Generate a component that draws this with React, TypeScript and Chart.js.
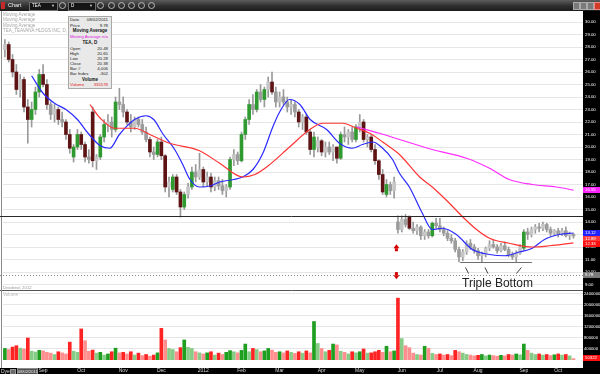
import React, { useEffect, useRef } from "react";
import { Chart, registerables } from "chart.js";

Chart.register(...registerables);

const FONT = '"Liberation Sans", Arial, Helvetica, sans-serif';

// ---- Price bars (two trading days per bar): [open, high, low, close]
const aug11 = [
  [27.8, 28.6, 27.2, 28.2], [28.2, 28.4, 26.8, 27.0], [27.0, 27.4, 25.6, 26.0], [26.0, 26.6, 24.2, 24.6],
  [24.6, 25.8, 24.0, 25.4], [25.4, 25.6, 22.8, 23.2], [23.2, 23.8, 20.3, 22.2], [22.2, 23.6, 21.6, 23.0],
  [23.0, 24.8, 22.6, 24.4], [24.4, 26.2, 24.0, 25.8],
];
const sep11 = [
  [25.8, 26.6, 24.8, 25.0], [25.0, 25.4, 23.0, 23.4], [23.4, 23.6, 22.2, 22.6], [22.6, 23.4, 22.0, 23.0],
  [23.0, 23.2, 21.8, 22.2], [22.2, 22.8, 21.6, 22.0], [22.0, 22.2, 20.6, 21.0], [21.0, 21.4, 19.5, 19.9],
  [19.2, 20.2, 18.8, 20.0], [20.0, 21.4, 19.8, 21.0],
];
const oct11 = [
  [21.0, 21.2, 19.8, 20.2], [20.2, 20.4, 18.8, 19.2], [19.2, 19.8, 18.7, 19.0], [22.8, 23.2, 18.4, 18.9],
  [18.9, 19.4, 18.2, 19.2], [19.2, 21.0, 19.0, 20.8], [20.8, 22.2, 20.4, 21.8], [21.8, 22.6, 21.2, 22.0],
  [22.0, 22.4, 20.8, 21.4], [21.4, 24.0, 21.2, 23.6], [23.6, 24.7, 23.0, 23.4],
];
const nov11 = [
  [23.4, 24.0, 22.4, 22.8], [22.8, 23.0, 21.8, 22.0], [22.0, 22.6, 21.2, 21.6], [21.6, 22.4, 21.4, 22.2],
  [22.2, 22.4, 21.6, 21.8], [21.8, 22.2, 21.0, 21.2], [21.2, 21.6, 20.4, 20.6], [20.6, 20.8, 19.2, 19.6],
  [19.6, 20.0, 19.0, 19.4], [19.4, 20.6, 19.2, 20.4],
];
const dec11 = [
  [20.4, 20.8, 19.0, 19.3], [19.3, 19.4, 16.4, 16.8], [16.8, 17.6, 16.0, 17.2], [16.6, 17.8, 16.4, 17.6],
  [17.6, 17.8, 16.2, 16.4], [16.4, 16.6, 14.4, 15.2], [15.2, 16.4, 15.0, 16.2], [16.2, 17.1, 15.9, 16.8],
  [16.8, 18.4, 16.6, 18.0], [18.0, 18.6, 17.2, 17.6], [17.6, 19.5, 17.4, 18.2],
];
const jan12 = [
  [18.2, 18.4, 16.8, 17.2], [17.2, 18.0, 16.9, 17.6], [17.6, 17.9, 16.4, 16.8], [16.8, 17.6, 16.5, 17.3],
  [17.3, 17.6, 16.6, 16.9], [16.9, 17.4, 16.2, 16.5], [16.5, 17.0, 16.0, 16.8], [16.8, 19.2, 16.6, 19.0],
  [19.0, 19.8, 18.5, 19.4], [19.4, 19.6, 18.6, 18.9],
];
const feb12 = [
  [18.9, 21.2, 18.8, 21.0], [21.0, 22.4, 20.6, 22.2], [22.2, 23.8, 21.8, 23.4], [23.4, 24.2, 22.6, 23.0],
  [23.0, 24.6, 22.8, 24.4], [24.4, 25.0, 23.6, 23.8], [23.8, 24.8, 23.2, 24.6], [24.6, 25.6, 24.0, 25.2],
  [25.2, 26.0, 24.2, 24.4], [24.4, 24.8, 23.2, 23.6],
];
const mar12 = [
  [23.6, 24.4, 23.2, 24.0], [24.0, 24.6, 23.4, 23.6], [23.6, 24.0, 22.8, 23.2], [23.2, 23.8, 22.6, 23.4],
  [23.4, 23.6, 22.4, 22.8], [22.8, 23.0, 21.6, 22.0], [22.0, 22.6, 21.4, 22.4], [22.4, 22.6, 21.0, 21.2],
  [21.2, 21.4, 19.4, 19.8], [19.8, 21.2, 19.2, 20.8], [20.0, 20.8, 19.6, 20.5],
];
const apr12 = [
  [20.5, 20.6, 19.3, 19.6], [19.6, 20.4, 19.2, 20.0], [20.0, 20.4, 19.4, 19.6], [19.6, 20.2, 18.9, 20.0],
  [20.0, 20.0, 18.7, 19.1], [19.1, 21.2, 19.0, 21.0], [21.0, 21.6, 20.4, 20.8], [20.8, 21.4, 20.2, 21.2],
  [21.2, 21.6, 20.4, 20.6], [20.6, 21.8, 20.4, 21.6],
];
const may12 = [
  [21.6, 22.6, 21.2, 22.0], [22.0, 22.2, 20.4, 20.6], [20.6, 21.0, 20.0, 20.8], [20.8, 21.0, 19.6, 19.8],
  [19.8, 20.2, 18.6, 18.9], [18.9, 19.0, 17.4, 17.8], [17.8, 18.2, 16.2, 16.4], [16.2, 17.4, 16.0, 17.0],
  [17.0, 17.2, 16.2, 16.5], [16.5, 17.6, 15.9, 17.2], [14.0, 14.5, 13.1, 13.4],
];
const jun12 = [
  [13.4, 14.5, 13.2, 14.2], [14.2, 14.6, 13.6, 13.8], [14.4, 14.5, 13.4, 13.5], [13.5, 14.0, 13.1, 13.3],
  [13.3, 13.8, 13.0, 13.6], [13.6, 13.7, 12.6, 12.9], [12.9, 13.4, 12.6, 13.2], [13.2, 13.4, 12.7, 12.9],
  [12.9, 14.0, 12.8, 13.9], [13.9, 14.3, 13.5, 13.7],
];
const jul12 = [
  [13.7, 14.3, 13.2, 13.4], [13.4, 13.6, 12.9, 13.1], [13.1, 13.3, 12.5, 12.7], [12.7, 13.0, 12.3, 12.5],
  [12.5, 12.7, 11.6, 11.8], [11.8, 12.0, 10.8, 11.2], [11.2, 11.8, 10.9, 11.6], [11.6, 12.5, 11.4, 12.3],
  [12.3, 12.6, 11.8, 12.0], [12.0, 12.2, 11.5, 11.7],
];
const aug12 = [
  [11.7, 11.9, 11.0, 11.3], [11.3, 11.6, 10.8, 11.4], [11.4, 12.0, 11.2, 11.9], [11.9, 12.5, 11.7, 12.2],
  [12.2, 12.6, 11.9, 12.0], [12.0, 12.2, 11.5, 11.7], [11.7, 12.3, 11.6, 12.1], [12.1, 12.4, 11.7, 11.8],
  [11.8, 12.0, 11.2, 11.4], [11.4, 11.6, 11.0, 11.2], [11.2, 11.7, 10.8, 11.5], [11.5, 12.2, 11.4, 12.0],
];
const sep12 = [
  [11.9, 13.4, 11.7, 13.2], [13.2, 13.5, 12.6, 13.0], [13.0, 13.6, 12.8, 13.4], [13.4, 13.8, 13.1, 13.6],
  [13.6, 13.9, 13.2, 13.5], [13.5, 14.0, 13.3, 13.8], [13.8, 13.9, 13.2, 13.4], [13.4, 13.6, 12.9, 13.1],
  [13.1, 13.4, 12.9, 13.3],
];
const oct12 = [
  [13.3, 13.5, 12.8, 13.0], [13.0, 13.5, 12.9, 13.3], [13.3, 13.6, 12.8, 12.9], [12.9, 13.2, 12.6, 13.0],
  [13.0, 13.1, 12.7, 12.89],
];

// ---- Volume per bar (thousands of shares)
const volAug11 = [420, 380, 470, 520, 430, 400, 800, 320, 290, 350];
const volSep11 = [330, 280, 250, 200, 300, 260, 220, 650, 320, 280];
const volOct11 = [1130, 700, 320, 360, 250, 280, 180, 220, 300, 430, 260];
const volNov11 = [280, 220, 300, 180, 250, 160, 200, 140, 180, 260];
const volDec11 = [1150, 730, 420, 380, 300, 450, 730, 460, 420, 300, 260];
const volJan12 = [220, 260, 300, 180, 250, 200, 280, 340, 300, 260];
const volFeb12 = [350, 580, 300, 420, 380, 300, 330, 420, 360, 280];
const volMar12 = [300, 260, 330, 280, 240, 300, 250, 330, 260, 1400, 600];
const volApr12 = [420, 300, 350, 580, 550, 320, 280, 220, 300, 260];
const volMay12 = [300, 400, 250, 260, 300, 350, 280, 500, 300, 330, 2250];
const volJun12 = [780, 520, 450, 250, 200, 180, 500, 430, 240, 200];
const volJul12 = [220, 180, 200, 160, 350, 300, 250, 200, 180, 150];
const volAug12 = [170, 200, 150, 180, 160, 140, 170, 150, 200, 180, 220, 190];
const volSep12 = [580, 350, 250, 200, 220, 180, 200, 160, 190];
const volOct12 = [220, 180, 200, 150, 50];

// ---- Moving averages: [bar index, price]
const ma20 = [
  [7, 25.7], [10, 24.3], [13, 23.5], [16, 23.0], [19, 22.2], [21.8, 21.1], [25, 20.1], [27.5, 19.9],
  [30, 21.0], [34, 22.2], [37, 22.5], [39, 22.2], [41.5, 21.0], [44.5, 19.8], [46.6, 18.6], [48.5, 17.4],
  [51, 16.8], [54, 16.9], [56.3, 17.2], [60, 17.4], [62.3, 17.6], [65, 18.2], [67.6, 19.5], [70.2, 21.6],
  [72, 22.8], [74.6, 23.8], [77.3, 23.4], [80, 22.2], [84.3, 21.4], [87.7, 20.3], [91, 19.9], [93.7, 20.2],
  [96.4, 20.4], [99, 19.9], [101.6, 19.0], [103.4, 17.9], [106, 16.8], [109.4, 14.7], [112, 13.4],
  [114.7, 13.5], [118.3, 13.0], [122.5, 11.8], [127, 11.4], [131, 11.3], [134.8, 11.6], [138.2, 11.9],
  [141.4, 12.6], [145.3, 13.0], [149, 13.12],
];
const ma50 = [
  [22.3, 23.4], [25, 22.3], [28.8, 21.5], [34, 21.5], [38, 21.0], [43.2, 20.3], [51, 19.7], [56.3, 18.7],
  [62.3, 17.6], [65.5, 17.8], [68.6, 18.4], [74.6, 20.0], [79.9, 21.4], [83.3, 21.9], [88.5, 21.9],
  [92.2, 21.5], [95.6, 21.1], [99, 20.4], [103.4, 19.4], [108.7, 17.6], [112, 16.8], [116.5, 15.5],
  [120, 14.4], [123.6, 13.4], [127, 12.7], [132.2, 12.3], [138.2, 12.0], [142.7, 12.1], [149, 12.33],
];
const ma200 = [
  [92.2, 21.6], [98.2, 21.1], [103.4, 20.6], [112, 19.8], [121, 19.1], [127, 18.3], [132.2, 17.4],
  [138.2, 17.0], [144.5, 16.8], [149, 16.55],
];

// ---- Axis / annotation values
const monthLabels = ["Sep", "Oct", "Nov", "Dec", "2012", "Feb", "Mar", "Apr", "May", "Jun", "Jul", "Aug", "Sep", "Oct"];
const priceTicks = [9, 10, 11, 12, 13, 14, 15, 16, 17, 18, 19, 20, 21, 22, 23, 24, 25, 26, 27, 28, 29, 30];
const volumeTicks = [400, 800, 1200, 1600, 2000, 2400];
const horizontalLevel = 14.45;
const priceLineLevel = 9.78;
const tripleBottomLevel = 10.8;
const tripleBottomSpan = [119.3, 138.1];
const tripleBottomTouches = [121.1, 126.2, 134.7];
const signalBar = 102.6;
const signalUp = 11.9;
const signalDown = 9.75;
const priceTags = [
  { value: 16.55, text: "16.55", bg: "#ff22ff", fg: "#ffffff" },
  { value: 13.12, text: "13.12", bg: "#2222ff", fg: "#ffffff" },
  { value: 12.89, text: "12.89", bg: "#ff3a3a", fg: "#ffffff" },
  { value: 12.33, text: "12.33", bg: "#ff1010", fg: "#ffffff" },
  { value: 9.78, text: "9.78", bg: "#7a7a7a", fg: "#ffffff" },
];
const lastVolume = 50;
const lastVolumeText = "50322";

function drawTag(ctx: CanvasRenderingContext2D, x0: number, w: number, y: number, text: string, bg: string, fg: string) {
  const yy = Math.round(y);
  ctx.fillStyle = bg;
  ctx.fillRect(x0, yy - 3, w, 6);
  ctx.fillStyle = fg;
  ctx.font = `4.3px ${FONT}`;
  ctx.textAlign = "left";
  ctx.textBaseline = "middle";
  ctx.fillText(text, x0 + 2, yy + 0.2);
}

export default function App() {
  const priceRef = useRef<HTMLCanvasElement | null>(null);
  const volRef = useRef<HTMLCanvasElement | null>(null);

  useEffect(() => {
    const months = [aug11, sep11, oct11, nov11, dec11, jan12, feb12, mar12, apr12, may12, jun12, jul12, aug12, sep12, oct12];
    const vols = [volAug11, volSep11, volOct11, volNov11, volDec11, volJan12, volFeb12, volMar12, volApr12, volMay12, volJun12, volJul12, volAug12, volSep12, volOct12];
    const bars = months.flat();
    const volumes = vols.flat();
    const starts: number[] = [];
    let acc = 0;
    months.forEach((m) => {
      starts.push(acc);
      acc += m.length;
    });
    const tickStarts = starts.slice(1);
    const X_MIN = -0.5;
    const X_MAX = bars.length + 1.5;

    const bodyColors = bars.map((b) => {
      const up = b[3] >= b[0];
      const big = Math.abs(b[3] - b[0]) >= 0.8;
      if (up) return big ? "#2f9a2f" : "#c6c6c6";
      return big ? "#5e1414" : "#9c9c9c";
    });
    const volColors = bars.map((b, i) => {
      const up = b[3] >= b[0];
      const more = i === 0 || volumes[i] >= volumes[i - 1];
      if (up) return more ? "#1f9f1f" : "#86cc86";
      return more ? "#ff2424" : "#ff8e8e";
    });

    const pricePlugin = {
      id: "priceDeco",
      beforeDraw(chart: any) {
        const { ctx, chartArea: ca, width, height } = chart;
        ctx.save();
        ctx.fillStyle = "#ffffff";
        ctx.fillRect(0, 0, width, height);
        ctx.fillStyle = "#000000";
        ctx.fillRect(ca.right, 0, width - ca.right, height);
        ctx.restore();
      },
      afterDatasetsDraw(chart: any) {
        const { ctx, chartArea: ca, scales } = chart;
        const xs = scales.x;
        const ys = scales.y;
        ctx.save();
        ctx.lineWidth = 1;
        ctx.strokeStyle = "#8a8a8a";
        ctx.beginPath();
        ctx.moveTo(1.5, 0);
        ctx.lineTo(1.5, ca.bottom);
        ctx.stroke();
        let y = Math.round(ys.getPixelForValue(horizontalLevel)) + 0.5;
        ctx.strokeStyle = "#2a2a2a";
        ctx.beginPath();
        ctx.moveTo(0, y);
        ctx.lineTo(ca.right, y);
        ctx.stroke();
        y = Math.round(ys.getPixelForValue(priceLineLevel)) + 0.5;
        ctx.strokeStyle = "#8a8a8a";
        ctx.setLineDash([1, 2]);
        ctx.beginPath();
        ctx.moveTo(0, y);
        ctx.lineTo(ca.right, y);
        ctx.stroke();
        ctx.setLineDash([]);
        const ty = Math.round(ys.getPixelForValue(tripleBottomLevel)) + 0.5;
        ctx.strokeStyle = "#6e6e6e";
        ctx.beginPath();
        ctx.moveTo(xs.getPixelForValue(tripleBottomSpan[0]), ty);
        ctx.lineTo(xs.getPixelForValue(tripleBottomSpan[1]), ty);
        ctx.stroke();
        ctx.strokeStyle = "#444444";
        tripleBottomTouches.forEach((t, k) => {
          const cx = xs.getPixelForValue(t);
          ctx.beginPath();
          if (k < 2) {
            ctx.moveTo(cx - 1.5, ty + 5);
            ctx.lineTo(cx + 1.5, ty + 11);
          } else {
            ctx.moveTo(cx - 2.5, ty + 11);
            ctx.lineTo(cx + 2.5, ty + 5);
          }
          ctx.stroke();
        });
        const ax = xs.getPixelForValue(signalBar);
        ctx.fillStyle = "#d40000";
        let ay = ys.getPixelForValue(signalUp);
        ctx.beginPath();
        ctx.moveTo(ax, ay - 4);
        ctx.lineTo(ax + 3, ay);
        ctx.lineTo(ax - 3, ay);
        ctx.closePath();
        ctx.fill();
        ctx.fillRect(ax - 1.5, ay, 3, 3);
        ay = ys.getPixelForValue(signalDown);
        ctx.beginPath();
        ctx.moveTo(ax, ay + 4);
        ctx.lineTo(ax + 3, ay);
        ctx.lineTo(ax - 3, ay);
        ctx.closePath();
        ctx.fill();
        ctx.fillRect(ax - 1.5, ay - 3, 3, 3);
        ctx.restore();
      },
      afterDraw(chart: any) {
        const { ctx, chartArea: ca, width, scales } = chart;
        const ys = scales.y;
        ctx.save();
        const sorted = [...priceTags].sort((a, b) => b.value - a.value);
        let prev = -100;
        sorted.forEach((t) => {
          let y = ys.getPixelForValue(t.value);
          if (y < prev + 5.5) y = prev + 5.5;
          prev = y;
          drawTag(ctx, ca.right, width - ca.right, y, t.text, t.bg, t.fg);
        });
        ctx.restore();
      },
    };

    const volumePlugin = {
      id: "volDeco",
      beforeDraw(chart: any) {
        const { ctx, chartArea: ca, width, height } = chart;
        ctx.save();
        ctx.fillStyle = "#ffffff";
        ctx.fillRect(0, 0, width, height);
        ctx.fillStyle = "#000000";
        ctx.fillRect(ca.right, 0, width - ca.right, height);
        ctx.fillRect(0, ca.bottom + 8, width, height - ca.bottom - 8);
        ctx.strokeStyle = "#555555";
        ctx.lineWidth = 1;
        ctx.beginPath();
        ctx.moveTo(0, 0.5);
        ctx.lineTo(ca.right, 0.5);
        ctx.stroke();
        ctx.strokeStyle = "#8a8a8a";
        ctx.beginPath();
        ctx.moveTo(1.5, 0);
        ctx.lineTo(1.5, ca.bottom + 8);
        ctx.stroke();
        ctx.restore();
      },
      afterDraw(chart: any) {
        const { ctx, chartArea: ca, width, scales } = chart;
        ctx.save();
        drawTag(ctx, ca.right, width - ca.right, scales.y.getPixelForValue(lastVolume) - 1, lastVolumeText, "#ff1010", "#ffffff");
        ctx.restore();
      },
    };

    const lineDs = (pts: number[][], color: string) => ({
      type: "line" as const,
      data: pts.map(([x, y]) => ({ x, y })),
      borderColor: color,
      borderWidth: 1.2,
      pointRadius: 0,
      cubicInterpolationMode: "monotone" as const,
    });

    const pc = new Chart(priceRef.current as HTMLCanvasElement, {
      type: "bar",
      data: {
        datasets: [
          lineDs(ma200, "#ff2cff"),
          lineDs(ma50, "#ff3434"),
          lineDs(ma20, "#2a2aff"),
          {
            type: "bar",
            data: bars.map((b, i) => ({ x: i, y: [Math.min(b[0], b[3]), Math.max(b[0], b[3])] })),
            backgroundColor: bodyColors,
            barThickness: 3,
            grouped: false,
            minBarLength: 1,
          },
          {
            type: "bar",
            data: bars.map((b, i) => ({ x: i, y: [b[2], b[1]] })),
            backgroundColor: "#9a9a9a",
            barThickness: 1,
            grouped: false,
          },
        ] as any,
      },
      options: {
        responsive: false,
        animation: false,
        events: [],
        layout: { padding: { left: 3, right: 0, top: 0, bottom: 0 } },
        plugins: { legend: { display: false }, tooltip: { enabled: false } },
        scales: {
          x: { type: "linear", min: X_MIN, max: X_MAX, offset: false, display: false },
          y: {
            type: "linear",
            position: "right",
            min: 8.56,
            max: 30.88,
            beginAtZero: false,
            afterBuildTicks: (s: any) => {
              s.ticks = priceTicks.map((v) => ({ value: v }));
            },
            afterFit: (s: any) => {
              s.width = 17;
              s.paddingTop = 0;
              s.paddingBottom = 0;
            },
            ticks: {
              color: "#ffffff",
              font: { size: 4.3, family: FONT },
              padding: 2,
              autoSkip: false,
              callback: (v: any) => Number(v).toFixed(2),
            },
            grid: { color: "#e6e6e6", drawTicks: false },
            border: { display: false },
          },
        } as any,
      },
      plugins: [pricePlugin],
    });

    const vc = new Chart(volRef.current as HTMLCanvasElement, {
      type: "bar",
      data: {
        datasets: [
          {
            data: volumes.map((v, i) => ({ x: i, y: v })),
            backgroundColor: volColors,
            barThickness: 3,
            grouped: false,
          },
        ] as any,
      },
      options: {
        responsive: false,
        animation: false,
        events: [],
        layout: { padding: { left: 3, right: 0, top: 1, bottom: 0 } },
        plugins: { legend: { display: false }, tooltip: { enabled: false } },
        scales: {
          x: {
            type: "linear",
            position: "bottom",
            min: X_MIN,
            max: X_MAX,
            offset: false,
            afterBuildTicks: (s: any) => {
              s.ticks = tickStarts.map((v) => ({ value: v }));
            },
            afterFit: (s: any) => {
              s.height = 14;
              s.paddingLeft = 0;
              s.paddingRight = 0;
            },
            ticks: {
              autoSkip: false,
              maxRotation: 0,
              color: "#d6d6d6",
              font: { size: 5, family: FONT },
              padding: 8,
              callback: (_v: any, idx: number) => monthLabels[idx],
            },
            grid: { display: false, drawTicks: false },
            border: { display: false },
          },
          y: {
            type: "linear",
            position: "right",
            min: 0,
            max: 2509,
            beginAtZero: true,
            afterBuildTicks: (s: any) => {
              s.ticks = volumeTicks.map((v) => ({ value: v }));
            },
            afterFit: (s: any) => {
              s.width = 17;
              s.paddingTop = 0;
              s.paddingBottom = 0;
            },
            ticks: {
              color: "#ffffff",
              font: { size: 4.2, family: FONT },
              padding: 1,
              autoSkip: false,
              callback: (v: any) => String(Number(v) * 1000),
            },
            grid: { color: "#e6e6e6", drawTicks: false },
            border: { display: false },
          },
        } as any,
      },
      plugins: [volumePlugin],
    });

    return () => {
      pc.destroy();
      vc.destroy();
    };
  }, []);

  const abs = (s: React.CSSProperties): React.CSSProperties => ({ position: "absolute", whiteSpace: "nowrap", ...s });
  const infoRow = (top: number, l: string, r: string, color = "#222") => (
    <div style={abs({ left: 70, top, width: 38, fontSize: 4.3, lineHeight: "5px", color, display: "flex", justifyContent: "space-between" })}>
      <span>{l}</span>
      <span>{r}</span>
    </div>
  );
  const infoTitle = (top: number, t: string) => (
    <div style={abs({ left: 68, top, width: 44, textAlign: "center", fontSize: 4.5, fontWeight: "bold", lineHeight: "5px", color: "#111" })}>{t}</div>
  );
  const iconXs = [59, 97, 108, 118, 128, 138, 148];

  return (
    <div style={{ position: "fixed", left: 0, top: 0, width: 600, height: 374, background: "#fff", overflow: "hidden", fontFamily: FONT }}>
      <canvas ref={priceRef} width={600} height={279} style={{ position: "absolute", left: 0, top: 11, display: "block" }} />
      <canvas ref={volRef} width={600} height={84} style={{ position: "absolute", left: 0, top: 290, display: "block" }} />

      <div style={abs({ left: 0, top: 0, width: 600, height: 11, background: "linear-gradient(#5c5c5c, #2e2e2e 55%, #1c1c1c)" })} />
      <div style={abs({ left: 1, top: 2, width: 4, height: 7, background: "#c42a2a" })} />
      <div style={abs({ left: 8, top: 2, fontSize: 5.5, lineHeight: "7px", color: "#f2f2f2" })}>Chart</div>
      <div style={abs({ left: 29, top: 1.5, width: 27, height: 7, background: "#151515", border: "1px solid #707070" })} />
      <div style={abs({ left: 32, top: 2.5, fontSize: 4.6, lineHeight: "6px", color: "#fff" })}>TEA</div>
      <div style={abs({ left: 51, top: 2.5, fontSize: 4, lineHeight: "6px", color: "#ccc" })}>▼</div>
      <div style={abs({ left: 68, top: 1.5, width: 26, height: 7, background: "#151515", border: "1px solid #707070" })} />
      <div style={abs({ left: 71, top: 2.5, fontSize: 4.6, lineHeight: "6px", color: "#fff" })}>D</div>
      <div style={abs({ left: 89, top: 2.5, fontSize: 4, lineHeight: "6px", color: "#ccc" })}>▼</div>
      {iconXs.map((x) => (
        <div key={x} style={abs({ left: x, top: 2, width: 5, height: 5, borderRadius: "50%", border: "1px solid #b8b8b8" })} />
      ))}
      <div style={abs({ left: 573, top: 2, width: 5, height: 6, background: "#7a7a7a", border: "1px solid #aaa" })} />
      <div style={abs({ left: 580, top: 2, width: 5, height: 6, background: "#7a7a7a", border: "1px solid #aaa" })} />
      <div style={abs({ left: 587, top: 2, width: 5, height: 6, background: "#7a7a7a", border: "1px solid #aaa" })} />
      <div style={abs({ left: 594, top: 2, width: 5, height: 6, background: "#d23a2a", border: "1px solid #e88" })} />

      <div style={abs({ left: 3, top: 11.5, fontSize: 4.5, lineHeight: "5px", color: "#a6a6a6" })}>Moving Average</div>
      <div style={abs({ left: 3, top: 17, fontSize: 4.5, lineHeight: "5px", color: "#a6a6a6" })}>Moving Average</div>
      <div style={abs({ left: 3, top: 22.5, fontSize: 4.5, lineHeight: "5px", color: "#a6a6a6" })}>Moving Average</div>
      <div style={abs({ left: 3, top: 28, fontSize: 4.5, lineHeight: "5px", color: "#a6a6a6" })}>TEA_TEAVANA HLDGS INC, D, 08:30</div>

      <div style={abs({ left: 68, top: 15.5, width: 42, height: 71, background: "#e9e9e9", border: "1px solid #a8a8a8" })} />
      {infoRow(17, "Date", "08/02/2011")}
      {infoRow(22.5, "Price", "9.78")}
      {infoTitle(28, "Moving Average")}
      {infoRow(33.5, "Moving Average", "n/a", "#e020e0")}
      {infoTitle(39.5, "TEA, D")}
      {infoRow(45.5, "Open", "20.48")}
      {infoRow(50.5, "High", "20.65")}
      {infoRow(55.5, "Low", "20.28")}
      {infoRow(60.5, "Close", "20.38")}
      {infoRow(65.5, "Bar #", "4,006")}
      {infoRow(70.5, "Bar Index", "-302")}
      {infoTitle(76.5, "Volume")}
      {infoRow(82, "Volume", "335578", "#e02020")}

      <div style={abs({ left: 462, top: 277, fontSize: 12, lineHeight: "12px", color: "#222" })}>Triple Bottom</div>
      <div style={abs({ left: 3, top: 284.5, fontSize: 4.3, lineHeight: "5px", color: "#9a9a9a" })}>Dividend, 2012</div>
      <div style={abs({ left: 3, top: 292, fontSize: 4.5, lineHeight: "5px", color: "#b8b8b8" })}>Volume</div>

      <div style={abs({ left: 1, top: 368.5, fontSize: 5, lineHeight: "5px", color: "#dcdcdc" })}>Dye</div>
      <div style={abs({ left: 10, top: 368.5, width: 4, height: 4, background: "#6a6a6a", border: "1px solid #999" })} />
      <div style={abs({ left: 17, top: 368, width: 19, height: 5, background: "#505050", border: "1px solid #8a8a8a", fontSize: 4, lineHeight: "5px", color: "#eee", textAlign: "center" })}>08/02/2011</div>
    </div>
  );
}
